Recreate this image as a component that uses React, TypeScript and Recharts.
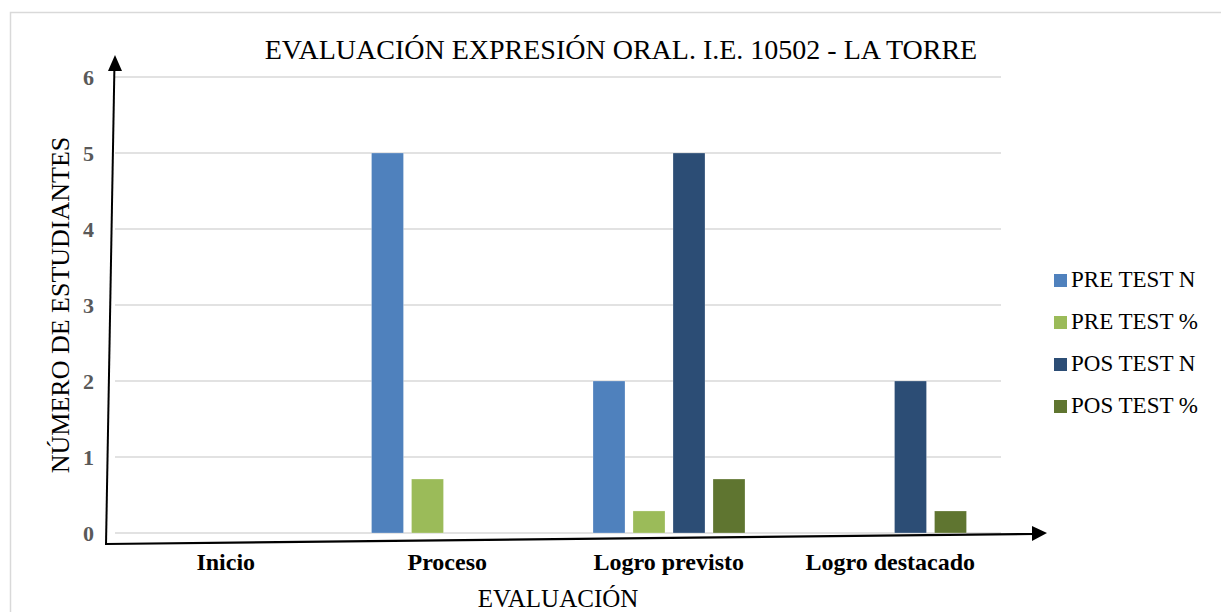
import React from 'react';
import { BarChart, Bar, XAxis, YAxis, CartesianGrid, Legend, Label, Customized } from 'recharts';

const categories = ['Inicio', 'Proceso', 'Logro previsto', 'Logro destacado'];
const preTestN = [0, 5, 2, 0];
const preTestPct = [0, 0.71, 0.29, 0];
const posTestN = [0, 0, 5, 2];
const posTestPct = [0, 0, 0.71, 0.29];
const yTicks = [0, 1, 2, 3, 4, 5, 6];

const seriesNames = ['PRE TEST N', 'PRE TEST %', 'POS TEST N', 'POS TEST %'];
const seriesColors = ['#4F81BD', '#9BBB59', '#2C4D75', '#5F7530'];

const data = categories.map((c, i) => ({
  name: c,
  preN: preTestN[i],
  prePct: preTestPct[i],
  posN: posTestN[i],
  posPct: posTestPct[i],
}));
const keys = ['preN', 'prePct', 'posN', 'posPct'];

const FONT = '"Liberation Serif", "Times New Roman", serif';

const Decorations = () => (
  <g>
    <rect x={10.5} y={12.5} width={1400} height={800} fill="none" stroke="#d9d9d9" strokeWidth={1.5} />
    <text x={621} y={59} textAnchor="middle" fontFamily={FONT} fontSize={28} fill="#000">
      EVALUACIÓN EXPRESIÓN ORAL. I.E. 10502 - LA TORRE
    </text>
    <line x1={106} y1={545} x2={114.4} y2={68} stroke="#000" strokeWidth={2} />
    <polygon points="115,55 108,71 122,71" fill="#000" />
    <line x1={106} y1={544} x2={1034} y2={534} stroke="#000" strokeWidth={2.2} />
    <polygon points="1047,533 1032,526 1032,541" fill="#000" />
  </g>
);

const renderLegend = () => (
  <div style={{ fontFamily: FONT }}>
    {seriesNames.map((n, i) => (
      <div key={n} style={{ display: 'flex', alignItems: 'center', height: 42 }}>
        <span style={{ display: 'inline-block', width: 13, height: 13, background: seriesColors[i], marginRight: 4 }} />
        <span style={{ fontSize: 23, color: '#000' }}>{n}</span>
      </div>
    ))}
  </div>
);

export default function App() {
  return (
    <div style={{ position: 'absolute', left: 0, top: 0, width: 1221, height: 612, background: '#fff' }}>
      <BarChart
        width={1221}
        height={612}
        data={data}
        margin={{ top: 77, right: 220, bottom: 0, left: 0 }}
        barSize={32}
        barGap={8}
      >
        <CartesianGrid vertical={false} stroke="#d9d9d9" strokeWidth={1.5} />
        <XAxis
          dataKey="name"
          height={79}
          axisLine={false}
          tickLine={false}
          tickSize={0}
          tickMargin={20}
          tick={{ fill: '#000', fontSize: 24, fontWeight: 'bold', fontFamily: FONT }}
        >
          <Label value="EVALUACIÓN" position="insideBottom" offset={5} style={{ fontFamily: FONT, fontSize: 25, fill: '#000' }} />
        </XAxis>
        <YAxis
          width={115}
          domain={[0, 6]}
          ticks={yTicks}
          axisLine={false}
          tickLine={false}
          tickSize={0}
          tickMargin={21}
          tick={{ fill: '#595959', fontSize: 22, fontWeight: 'bold', fontFamily: FONT }}
        >
          <Label value="NÚMERO DE ESTUDIANTES" angle={-90} position="center" dx={2} style={{ fontFamily: FONT, fontSize: 26, fill: '#000' }} />
        </YAxis>
        <Legend
          layout="vertical"
          align="center"
          verticalAlign="middle"
          content={renderLegend}
          wrapperStyle={{ left: 1054, top: 259, width: 167 }}
        />
        {keys.map((k, i) => (
          <Bar
            key={k}
            dataKey={k}
            name={seriesNames[i]}
            fill={seriesColors[i]}
            stroke="#ffffff"
            strokeOpacity={0.25}
            isAnimationActive={false}
          />
        ))}
        <Customized component={Decorations} />
      </BarChart>
    </div>
  );
}
